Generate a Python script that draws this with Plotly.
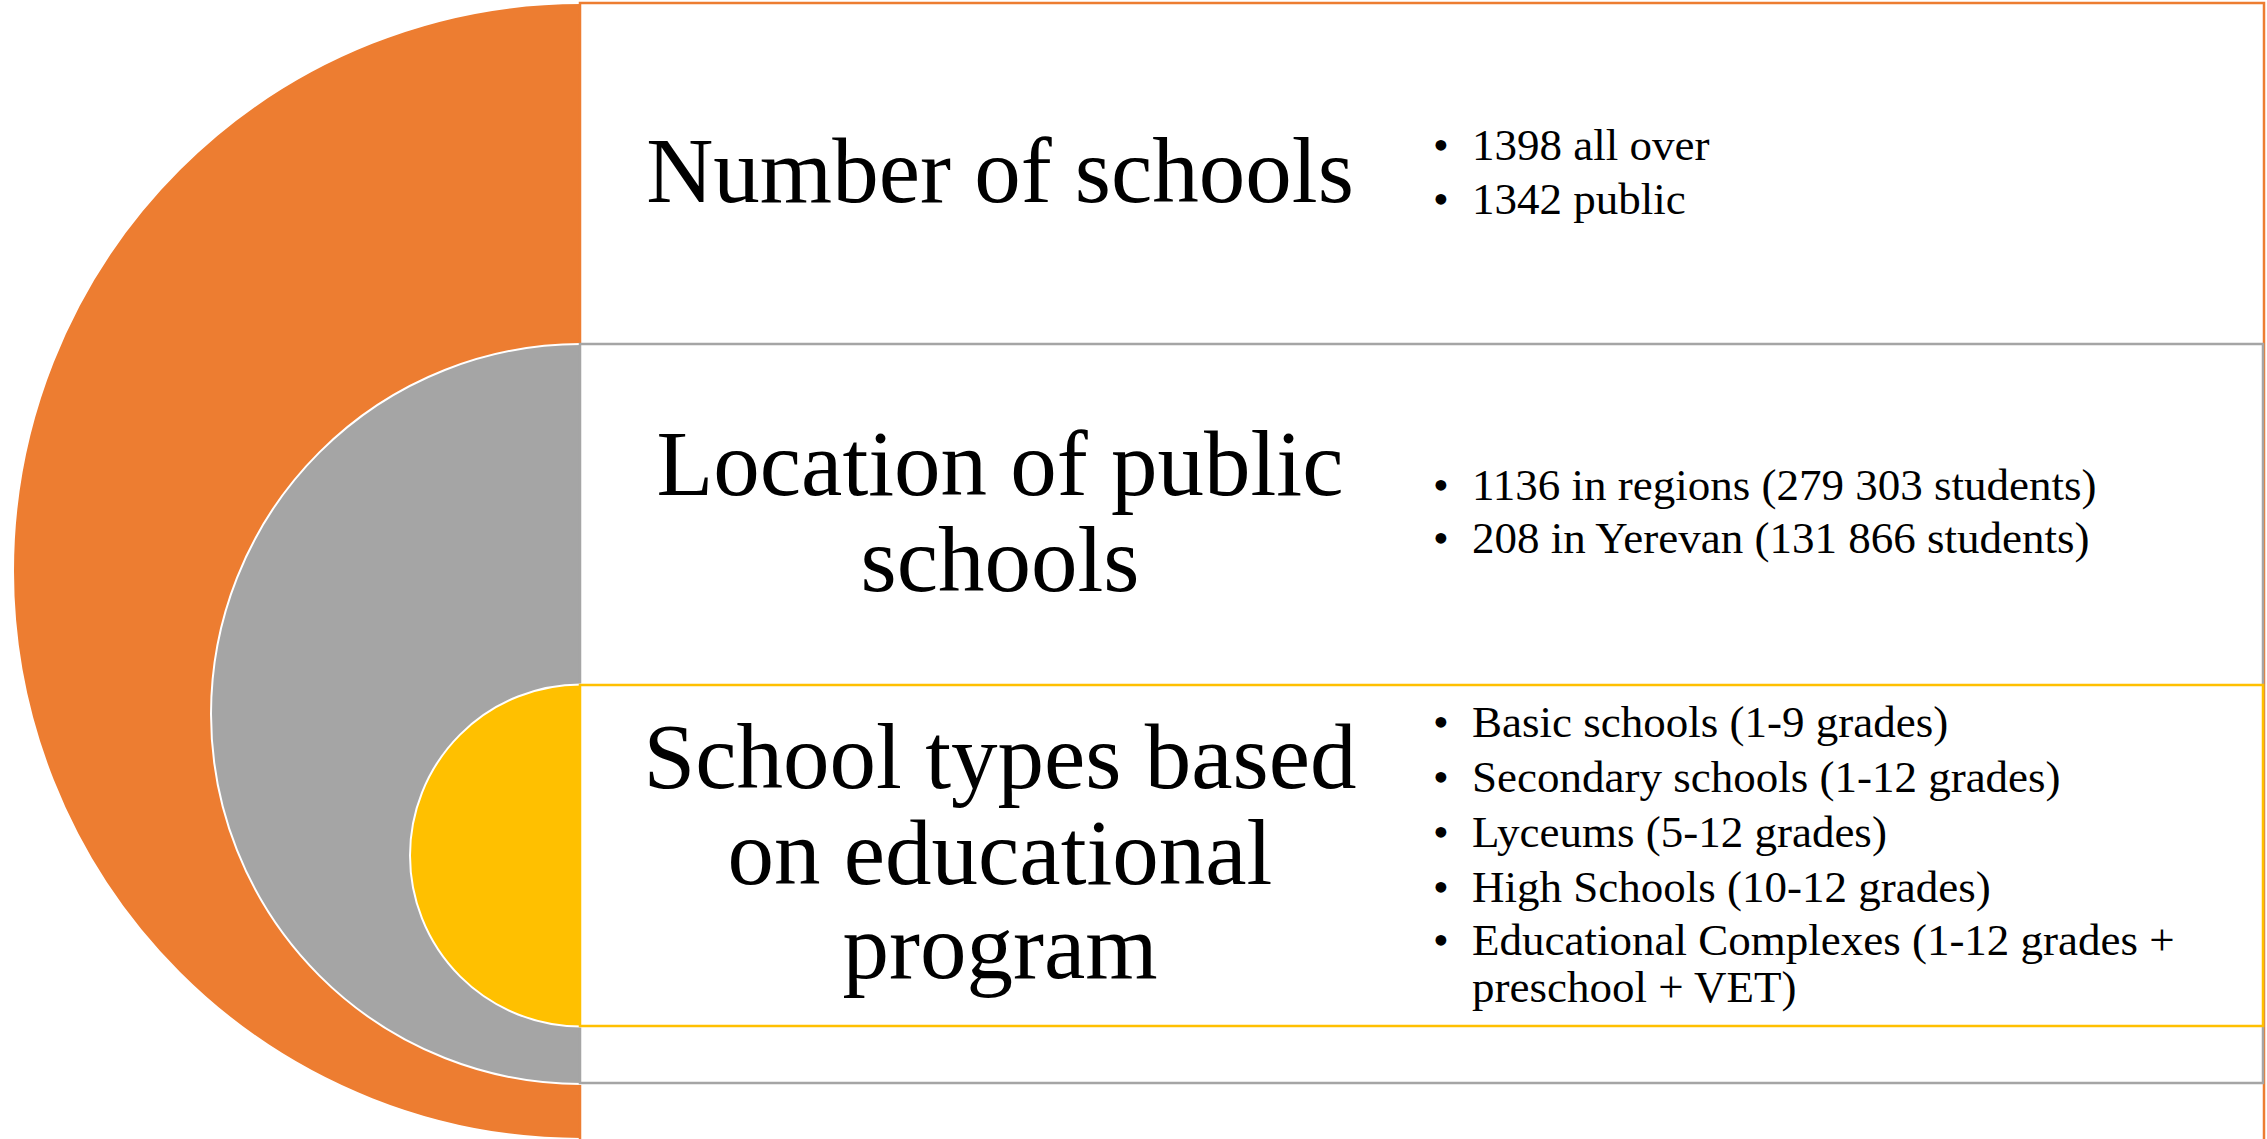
import plotly.graph_objects as go

# ---------------- content ----------------
section_titles = [
    ["Number of schools"],
    ["Location of public", "schools"],
    ["School types based", "on educational", "program"],
]
section_bullets = [
    ["1398 all over", "1342 public"],
    ["1136 in regions (279 303 students)", "208 in Yerevan (131 866 students)"],
    [
        "Basic schools (1-9 grades)",
        "Secondary schools (1-12 grades)",
        "Lyceums (5-12 grades)",
        "High Schools (10-12 grades)",
        "Educational Complexes (1-12 grades +\npreschool + VET)",
    ],
]
section_colors = ["#ED7D31", "#A5A5A5", "#FFC000"]

# ---------------- geometry (pixels) ----------------
W, H = 2267, 1139
cx = 581
circle_cy = [571, 714, 855.5]
circle_r = [568, 370, 171]
box_left = 580
box_top = [3, 344, 685]
box_bottom = [1150, 1083, 1026]
box_right = [2264, 2263, 2263]

title_x = 1000
title_baselines = [[202], [495, 591], [788, 884, 978]]
bullet_x = 1441
bullet_text_x = 1472
bullet_baselines = [[160, 214], [500, 553], [737, 792, 847, 902, 955]]
wrap_gap = 47

TITLE_SIZE = 93
BULLET_SIZE = 45
FONT = "Liberation Serif, Times New Roman, serif"


def y_from_baseline(b, size):
    # plotly places a single-line 'middle' text baseline 0.25em below the point
    return b - 0.25 * size


fig = go.Figure()

shapes = []
for i, col in enumerate(section_colors):
    r = circle_r[i]
    cy = circle_cy[i]
    shapes.append(dict(type="circle", xref="x", yref="y", layer="below",
                       x0=cx - r, x1=cx + r, y0=cy - r, y1=cy + r,
                       fillcolor=col, line=dict(color="white", width=2)))
    shapes.append(dict(type="rect", xref="x", yref="y", layer="below",
                       x0=box_left, x1=box_right[i], y0=box_top[i], y1=box_bottom[i],
                       fillcolor="white", line=dict(color=col, width=2.5)))

# titles
tx, ty, tt = [], [], []
for lines, bases in zip(section_titles, title_baselines):
    for line, b in zip(lines, bases):
        tx.append(title_x)
        ty.append(y_from_baseline(b, TITLE_SIZE))
        tt.append(line)
fig.add_trace(go.Scatter(x=tx, y=ty, text=tt, mode="text", textposition="middle center",
                         textfont=dict(family=FONT, size=TITLE_SIZE, color="black"),
                         hoverinfo="skip", showlegend=False, cliponaxis=False))

# bullets
bx, by, bt = [], [], []
dx, dy, dt = [], [], []
for items, bases in zip(section_bullets, bullet_baselines):
    for item, b in zip(items, bases):
        dx.append(bullet_x)
        dy.append(y_from_baseline(b, BULLET_SIZE))
        dt.append("•")
        for k, part in enumerate(item.split("\n")):
            bx.append(bullet_text_x)
            by.append(y_from_baseline(b + k * wrap_gap, BULLET_SIZE))
            bt.append(part)
fig.add_trace(go.Scatter(x=dx, y=dy, text=dt, mode="text", textposition="middle center",
                         textfont=dict(family=FONT, size=BULLET_SIZE, color="black"),
                         hoverinfo="skip", showlegend=False, cliponaxis=False))
fig.add_trace(go.Scatter(x=bx, y=by, text=bt, mode="text", textposition="middle right",
                         textfont=dict(family=FONT, size=BULLET_SIZE, color="black"),
                         hoverinfo="skip", showlegend=False, cliponaxis=False))

fig.update_layout(
    width=W, height=H, autosize=False,
    margin=dict(l=0, r=0, t=0, b=0, pad=0),
    paper_bgcolor="white", plot_bgcolor="white",
    shapes=shapes,
    xaxis=dict(range=[0, W], visible=False, showgrid=False, zeroline=False, fixedrange=True),
    yaxis=dict(range=[H, 0], visible=False, showgrid=False, zeroline=False, fixedrange=True),
)

fig.write_html("out.html", config=dict(displayModeBar=False),
               post_script="document.body.style.margin='0';document.body.style.overflow='hidden';")
